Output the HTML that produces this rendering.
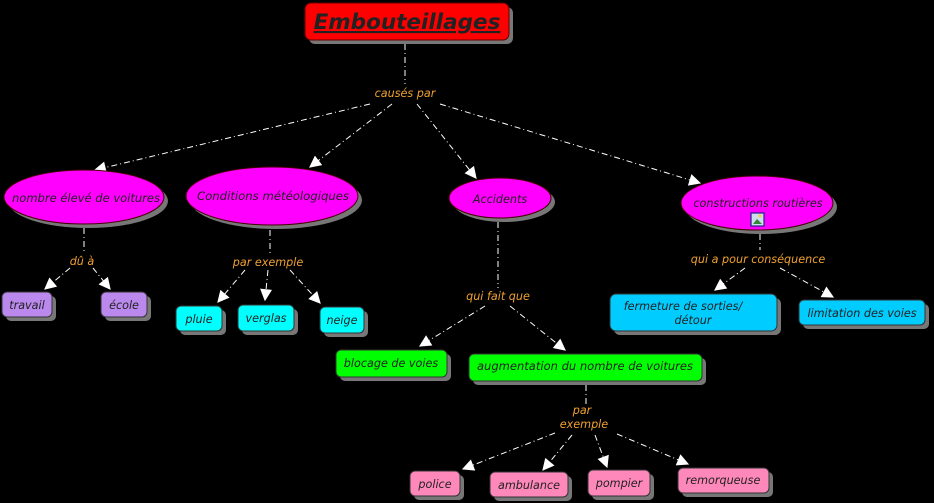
<!DOCTYPE html>
<html><head><meta charset="utf-8"><style>
html,body{margin:0;padding:0;background:#000;overflow:hidden;width:934px;height:503px;}
svg{display:block;}
svg text{font-family:"DejaVu Sans","Liberation Sans",sans-serif;font-style:italic;font-size:11.2px;}
.l{fill:#f0a030;}
.n{fill:#222;}
.c{stroke:#fff;stroke-width:1;stroke-dasharray:6,3,1,3;fill:none;}
</style></head><body>
<svg width="934" height="503" viewBox="0 0 934 503" xmlns="http://www.w3.org/2000/svg">
<defs>
<marker id="a" viewBox="0 0 10 10" refX="9" refY="5" markerWidth="14" markerHeight="12" markerUnits="userSpaceOnUse" orient="auto"><path d="M0,0 L10,5 L0,10 z" fill="#fff"/></marker>
</defs>
<g class="c">
<line x1="405" y1="44" x2="405" y2="84"/>
<line x1="370" y1="104" x2="95" y2="170" marker-end="url(#a)"/>
<line x1="392" y1="104" x2="310" y2="167" marker-end="url(#a)"/>
<line x1="417" y1="104" x2="476" y2="178" marker-end="url(#a)"/>
<line x1="440" y1="104" x2="700" y2="183" marker-end="url(#a)"/>
<line x1="84" y1="228" x2="84" y2="252"/>
<line x1="70" y1="268" x2="45" y2="289" marker-end="url(#a)"/>
<line x1="93" y1="268" x2="110" y2="289" marker-end="url(#a)"/>
<line x1="270" y1="230" x2="270" y2="254"/>
<line x1="245" y1="270" x2="218" y2="302" marker-end="url(#a)"/>
<line x1="268" y1="270" x2="265" y2="300" marker-end="url(#a)"/>
<line x1="290" y1="270" x2="320" y2="303" marker-end="url(#a)"/>
<line x1="498" y1="222" x2="498" y2="288"/>
<line x1="485" y1="306" x2="420" y2="346" marker-end="url(#a)"/>
<line x1="510" y1="306" x2="565" y2="350" marker-end="url(#a)"/>
<line x1="760" y1="234" x2="760" y2="250"/>
<line x1="745" y1="268" x2="715" y2="290" marker-end="url(#a)"/>
<line x1="780" y1="268" x2="833" y2="297" marker-end="url(#a)"/>
<line x1="586" y1="385" x2="586" y2="404"/>
<line x1="555" y1="433" x2="463" y2="469" marker-end="url(#a)"/>
<line x1="572" y1="435" x2="543" y2="470" marker-end="url(#a)"/>
<line x1="595" y1="435" x2="607" y2="467" marker-end="url(#a)"/>
<line x1="617" y1="434" x2="688" y2="464" marker-end="url(#a)"/>
</g>
<rect x="309" y="7" width="204" height="37" rx="6" fill="#777"/>
<rect x="305" y="3" width="204" height="37" rx="6" fill="#ff0000" stroke="#600" stroke-width="1"/>
<text x="407" y="29" text-anchor="middle" style="font-size:21.5px;font-weight:bold;text-decoration:underline;fill:#222">Embouteillages</text>
<text class="l" x="405" y="97" text-anchor="middle">causés par</text>
<text class="l" x="82" y="265" text-anchor="middle">dû à</text>
<text class="l" x="268" y="266" text-anchor="middle">par exemple</text>
<text class="l" x="498" y="300" text-anchor="middle">qui fait que</text>
<text class="l" x="758" y="263" text-anchor="middle">qui a pour conséquence</text>
<text class="l" x="582" y="414" text-anchor="middle">par</text>
<text class="l" x="584" y="428" text-anchor="middle">exemple</text>
<g stroke="#400" stroke-width="1">
<ellipse cx="88" cy="201" rx="80" ry="27" fill="#777" stroke="none"/>
<ellipse cx="84" cy="197" rx="80" ry="27" fill="#ff00ff"/>
<ellipse cx="276" cy="200" rx="86" ry="29" fill="#777" stroke="none"/>
<ellipse cx="272" cy="196" rx="86" ry="29" fill="#ff00ff"/>
<ellipse cx="504" cy="202" rx="51" ry="20" fill="#777" stroke="none"/>
<ellipse cx="500" cy="198" rx="51" ry="20" fill="#ff00ff"/>
<ellipse cx="761" cy="207" rx="76" ry="27" fill="#777" stroke="none"/>
<ellipse cx="757" cy="203" rx="76" ry="27" fill="#ff00ff"/>
</g>
<text class="n" x="86" y="202" text-anchor="middle" textLength="148" lengthAdjust="spacingAndGlyphs">nombre élevé de voitures</text>
<text class="n" x="273" y="200" text-anchor="middle" textLength="152" lengthAdjust="spacingAndGlyphs">Conditions météologiques</text>
<text class="n" x="500" y="203" text-anchor="middle">Accidents</text>
<text class="n" x="758" y="207" text-anchor="middle">constructions routières</text>
<rect x="751" y="213" width="13" height="13" fill="#cde" stroke="#228" stroke-width="1.2"/>
<path d="M753,224 L757,219 L762,224 z" fill="#383"/>
<circle cx="760" cy="216" r="1.5" fill="#fc3"/>
<g stroke="#333" stroke-width="1">
<g fill="#777" stroke="none">
<rect x="6" y="296" width="50" height="25" rx="5"/>
<rect x="105" y="296" width="46" height="25" rx="5"/>
<rect x="180" y="310" width="46" height="25" rx="5"/>
<rect x="242" y="309" width="56" height="26" rx="5"/>
<rect x="324" y="311" width="44" height="26" rx="5"/>
<rect x="340" y="354" width="111" height="27" rx="5"/>
<rect x="473" y="358" width="233" height="27" rx="5"/>
<rect x="614" y="298" width="167" height="37" rx="6"/>
<rect x="803" y="304" width="126" height="25" rx="5"/>
<rect x="414" y="475" width="50" height="25" rx="5"/>
<rect x="494" y="476" width="78" height="25" rx="5"/>
<rect x="592" y="474" width="62" height="26" rx="5"/>
<rect x="682" y="472" width="91" height="25" rx="5"/>
</g>
<rect x="2" y="292" width="50" height="25" rx="5" fill="#bb88ee"/>
<rect x="101" y="292" width="46" height="25" rx="5" fill="#bb88ee"/>
<rect x="176" y="306" width="46" height="25" rx="5" fill="#00ffff"/>
<rect x="238" y="305" width="56" height="26" rx="5" fill="#00ffff"/>
<rect x="320" y="307" width="44" height="26" rx="5" fill="#00ffff"/>
<rect x="336" y="350" width="111" height="27" rx="5" fill="#00ff00"/>
<rect x="469" y="354" width="233" height="27" rx="5" fill="#00ff00"/>
<rect x="610" y="294" width="167" height="37" rx="6" fill="#00ccff"/>
<rect x="799" y="300" width="126" height="25" rx="5" fill="#00ccff"/>
<rect x="410" y="471" width="50" height="25" rx="5" fill="#ff88bb"/>
<rect x="490" y="472" width="78" height="25" rx="5" fill="#ff88bb"/>
<rect x="588" y="470" width="62" height="26" rx="5" fill="#ff88bb"/>
<rect x="678" y="468" width="91" height="25" rx="5" fill="#ff88bb"/>
</g>
<g class="n" text-anchor="middle">
<text x="27" y="309">travail</text>
<text x="124" y="309">école</text>
<text x="199" y="323">pluie</text>
<text x="266" y="322">verglas</text>
<text x="342" y="324">neige</text>
<text x="391" y="367">blocage de voies</text>
<text x="585" y="370" textLength="216" lengthAdjust="spacingAndGlyphs">augmentation du nombre de voitures</text>
<text x="683" y="310">fermeture de sorties/</text>
<text x="693" y="324">détour</text>
<text x="862" y="317">limitation des voies</text>
<text x="435" y="488">police</text>
<text x="529" y="489">ambulance</text>
<text x="619" y="487">pompier</text>
<text x="723" y="484">remorqueuse</text>
</g>
</svg>
</body></html>
